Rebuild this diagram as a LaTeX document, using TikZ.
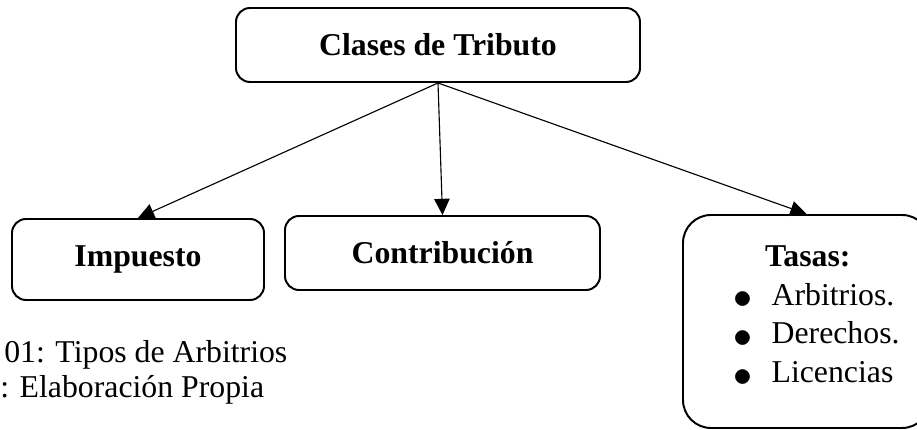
\documentclass[tikz,border=0pt]{standalone}
\usepackage{fontspec}
\setmainfont{Liberation Serif}
\usetikzlibrary{arrows.meta}
\newcommand{\vineta}[1]{\raisebox{-0.1em}{\scalebox{1.3}{$\bullet$}}\hspace{0.48cm}#1}

\begin{document}
\begin{tikzpicture}[
  caja/.style={draw,rounded corners=0.35cm,line width=1.4pt,font=\fontsize{22.6}{27.7}\selectfont\bfseries},
  texto/.style={inner sep=0pt,font=\fontsize{22.6}{27.7}\selectfont},
  flecha/.style={-{Triangle[length=11.5pt,width=11pt]},thick}
]
  \useasboundingbox (0,0) rectangle (22.925,10.75);
  \clip (0,0) rectangle (22.925,10.75);
  \node[caja,minimum width=10.1cm,minimum height=1.85cm] (clases) at (10.95,9.625) {Clases de Tributo};
  \node[caja,minimum width=6.3cm,minimum height=2.025cm] (imp) at (3.45,4.2625) {Impuesto};
  \node[caja,minimum width=7.875cm,minimum height=1.85cm] (con) at (11.0625,4.425) {Contribución};
  \node[caja,rounded corners=0.7cm,minimum width=6.175cm,minimum height=5.325cm] (tas) at (20.1625,2.7125) {};
  \node[texto,anchor=north west,align=left] (tasl) at (18.33,4.625)
    {\hspace*{0.79cm}\textbf{Tasas:}\\ \vineta{Arbitrios.}\\ \vineta{Derechos.}\\ \vineta{Licencias}};
  \node[texto,anchor=base west] (fig) at (0.1,1.675) {01: Tipos de Arbitrios};
  \node[texto,anchor=base west] (src) at (0,0.8) {: Elaboración Propia};
  \draw[flecha] (clases.south) -- (imp.north);
  \draw[flecha] (clases.south) -- (con.north);
  \draw[flecha] (clases.south) -- (tas.north);
\end{tikzpicture}
\end{document}
